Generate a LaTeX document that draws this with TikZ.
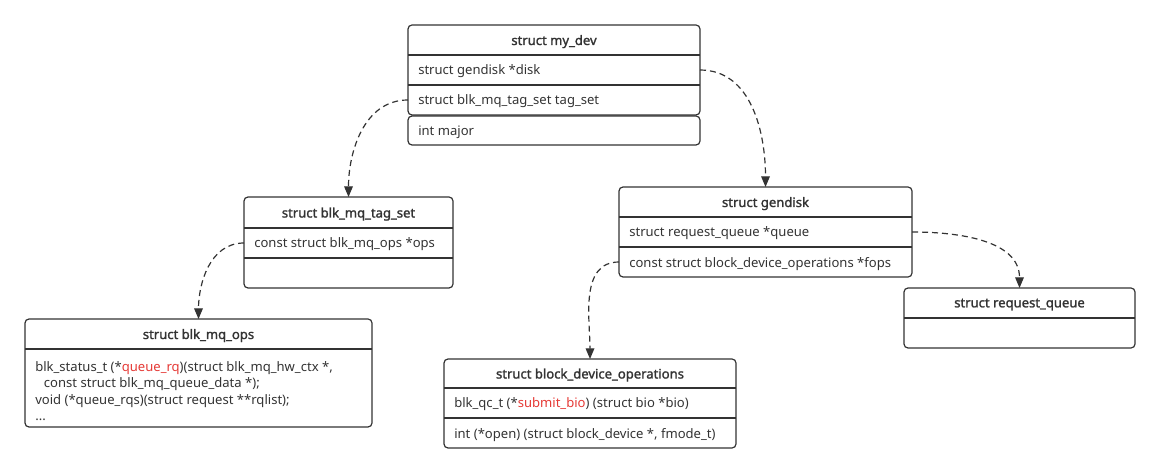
\documentclass[tikz,border=0pt]{standalone}
\usepackage{fontspec}
\setmainfont{Noto Sans}
\newfontfamily\titlefont{Noto Sans}[FakeBold=1.6]
\usetikzlibrary{fit,arrows.meta}
\definecolor{linec}{HTML}{333333}
\definecolor{txt}{HTML}{333333}
\definecolor{redt}{HTML}{E53935}
\begin{document}
\begin{tikzpicture}[x=0.75pt,y=-0.75pt,
  area/.style={inner sep=0pt, outer sep=0pt},
  box/.style={draw=linec, line width=0.9pt, rounded corners=3pt, inner sep=0pt, outer sep=0pt},
  sep/.style={draw=linec, line width=0.9pt},
  ttl/.style={text=txt, font=\titlefont\fontsize{9.8}{11}\selectfont, inner sep=0pt, yshift=-1.2pt},
  fld/.style={text=txt, font=\fontsize{9.8}{11}\selectfont, anchor=west, inner sep=0pt, yshift=-1.2pt},
  conn/.style={draw=linec, line width=0.9pt, dash pattern=on 4.5pt off 3pt,
    -{Triangle[length=8pt,width=6.5pt]}}
]
\useasboundingbox (0,0) rectangle (1159,473);

% ---------- struct my_dev ----------
\node[box, fit={(408,25)(700,115)}] (mydev) {};
\node[area, fit={(408,25)(700,55)}] (mdT) {};
\node[area, fit={(408,55)(700,85)}] (mdDisk) {};
\node[area, fit={(408,85)(700,115)}] (mdTag) {};
\node[box, fit={(408,116)(700,145)}] (mdMajor) {};
\draw[sep] (mdT.south west) -- (mdT.south east);
\draw[sep] (mdDisk.south west) -- (mdDisk.south east);
\node[ttl] (mdTt) at (mdT.center) {struct my\_dev};
\node[fld] (mdDiskt) at ([xshift=7.5pt]mdDisk.west) {struct gendisk *disk};
\node[fld] (mdTagt) at ([xshift=7.5pt]mdTag.west) {struct blk\_mq\_tag\_set tag\_set};
\node[fld] (mdMajt) at ([xshift=7.5pt]mdMajor.west) {int major};

% ---------- struct blk_mq_tag_set ----------
\node[box, fit={(244,197)(453,288)}] (tagset) {};
\node[area, fit={(244,197)(453,228)}] (tsT) {};
\node[area, fit={(244,228)(453,258)}] (tsOps) {};
\node[area, fit={(244,258)(453,288)}] (tsE) {};
\draw[sep] (tsT.south west) -- (tsT.south east);
\draw[sep] (tsOps.south west) -- (tsOps.south east);
\node[ttl] (tsTt) at (tsT.center) {struct blk\_mq\_tag\_set};
\node[fld] (tsOpst) at ([xshift=7.5pt]tsOps.west) {const struct blk\_mq\_ops *ops};

% ---------- struct blk_mq_ops ----------
\node[box, fit={(25,319)(372,427)}] (ops) {};
\node[area, fit={(25,319)(372,349)}] (opsT) {};
\node[area, fit={(25,349)(372,427)}] (opsB) {};
\draw[sep] (opsT.south west) -- (opsT.south east);
\node[ttl] (opsTt) at (opsT.center) {struct blk\_mq\_ops};
\node[fld, align=left, font=\fontsize{9.8}{12.4}\selectfont, yshift=0pt] (opsBt) at ([xshift=7.5pt,yshift=-1pt]opsB.west)
  {blk\_status\_t (*\textcolor{redt}{queue\_rq})(struct blk\_mq\_hw\_ctx *,\\
   \hspace*{6.5pt}const struct blk\_mq\_queue\_data *);\\
   void (*queue\_rqs)(struct request **rqlist);\\
   ...};

% ---------- struct gendisk ----------
\node[box, fit={(619,187)(912,277)}] (gendisk) {};
\node[area, fit={(619,187)(912,217)}] (gdT) {};
\node[area, fit={(619,217)(912,247)}] (gdQ) {};
\node[area, fit={(619,247)(912,277)}] (gdF) {};
\draw[sep] (gdT.south west) -- (gdT.south east);
\draw[sep] (gdQ.south west) -- (gdQ.south east);
\node[ttl] (gdTt) at (gdT.center) {struct gendisk};
\node[fld] (gdQt) at ([xshift=7.5pt]gdQ.west) {struct request\_queue *queue};
\node[fld] (gdFt) at ([xshift=7.5pt]gdF.west) {const struct block\_device\_operations *fops};

% ---------- struct block_device_operations ----------
\node[box, fit={(444,359)(736,448)}] (bdo) {};
\node[area, fit={(444,359)(736,388)}] (bdoT) {};
\node[area, fit={(444,388)(736,418)}] (bdoS) {};
\node[area, fit={(444,418)(736,448)}] (bdoO) {};
\draw[sep] (bdoT.south west) -- (bdoT.south east);
\draw[sep] (bdoS.south west) -- (bdoS.south east);
\node[ttl] (bdoTt) at (bdoT.center) {struct block\_device\_operations};
\node[fld] (bdoSt) at ([xshift=7.5pt]bdoS.west) {blk\_qc\_t (*\textcolor{redt}{submit\_bio}) (struct bio *bio)};
\node[fld] (bdoOt) at ([xshift=7.5pt]bdoO.west) {int (*open) (struct block\_device *, fmode\_t)};

% ---------- struct request_queue ----------
\node[box, fit={(904,288)(1135,348)}] (rq) {};
\node[area, fit={(904,288)(1135,318)}] (rqT) {};
\draw[sep] (rqT.south west) -- (rqT.south east);
\node[ttl] (rqTt) at (rqT.center) {struct request\_queue};

% ---------- connectors ----------
\draw[conn] (mdTag.west) to[out=180,in=90] (tagset.north);
\draw[conn] (mdDisk.east) to[out=0,in=90] (gendisk.north);
\draw[conn] (tsOps.west) to[out=180,in=90] (ops.north);
\draw[conn] (gdQ.east) to[out=0,in=90] (rq.north);
\draw[conn] (gdF.west) to[out=180,in=90] (bdo.north);
\end{tikzpicture}
\end{document}
